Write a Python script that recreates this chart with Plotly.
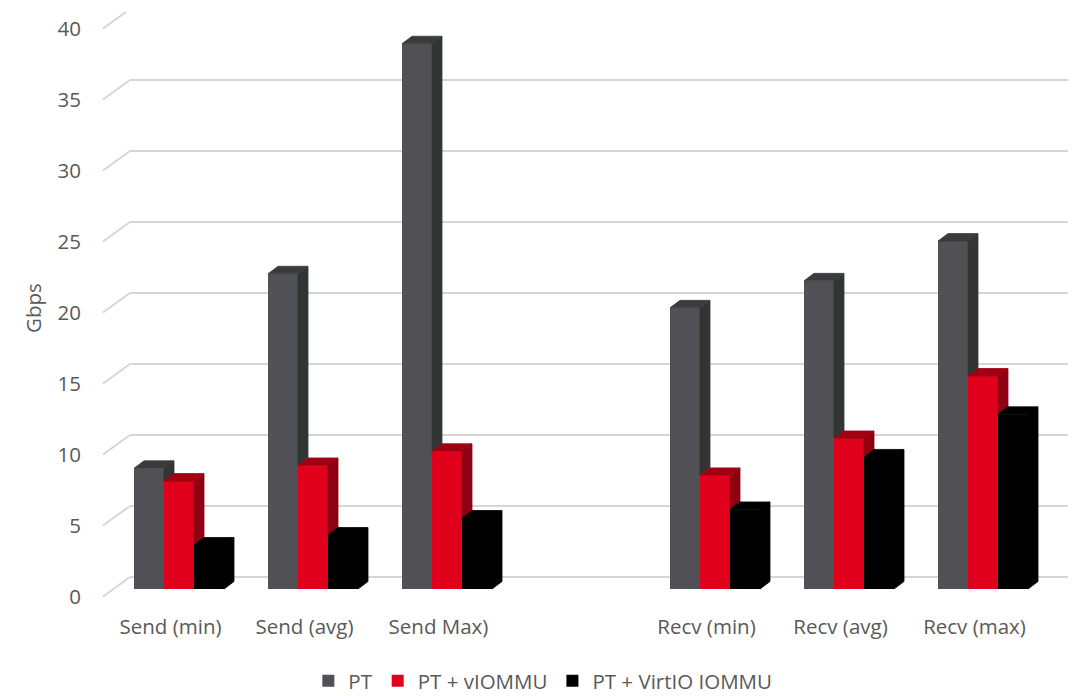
import plotly.graph_objects as go

# ---------------- data ----------------
categories = ["Send (min)", "Send (avg)", "Send Max)", "", "Recv (min)", "Recv (avg)", "Recv (max)"]
series_names = ["PT", "PT + vIOMMU", "PT + VirtIO IOMMU"]
pt_values = [8.5, 22.2, 38.4, None, 19.8, 21.7, 24.5]
viommu_values = [7.6, 8.7, 9.7, None, 8.0, 10.6, 15.0]
virtio_values = [3.1, 3.8, 5.0, None, 5.6, 9.3, 12.3]
y_ticks = [0, 5, 10, 15, 20, 25, 30, 35, 40]
y_title = "Gbps"

# ---------------- style ----------------
front_colors = ["#505055", "#e0001b", "#000000"]
side_colors = ["#333535", "#8f0012", "#000000"]
top_colors = ["#3a3c3c", "#a00012", "#000000"]
text_color = "#595959"
grid_color = "#d6d6d6"
FONT = "Open Sans"
FSIZE = 20.5
LEG_FSIZE = 20.5

OFF = 8                                  # page body margin
W, H = 1082 - OFF, 696 - OFF
L, R, T, B = 98 - OFF, 1072 - OFF, 4, 604 - OFF   # plot area (figure px)
CAT_PX = 134.0
CAT0_PX = 179.0 - OFF
VAL_PX = 14.2
BASE_PX = 589.0 - OFF

ux = 1.0 / CAT_PX
uy = 1.0 / VAL_PX
x_range = [(L - CAT0_PX) * ux, (R - CAT0_PX) * ux]
y_range = [-(B - BASE_PX) * uy, (BASE_PX - T) * uy]

bar_w = 30 * ux
group_left = -45 * ux
dx, dy = 10 * ux, 7.5 * uy
back_dy = 12 * uy
front_dy = -7.5 * uy
grid_back_left = (130 - OFF - CAT0_PX) * ux
grid_right = (1068 - OFF - CAT0_PX) * ux
grid_front_left = (103 - OFF - CAT0_PX) * ux
label_dx = -8.5 * ux

all_series = [pt_values, viommu_values, virtio_values]

fig = go.Figure()

for j, (name, vals) in enumerate(zip(series_names, all_series)):
    xs = [k + group_left + j * bar_w + bar_w / 2 for k in range(len(categories))]
    fig.add_trace(go.Bar(
        x=xs, y=vals, width=bar_w, name=name,
        marker=dict(color=front_colors[j], line=dict(width=0)),
        hoverinfo="y+name",
    ))

for j, vals in enumerate(all_series):
    sx, sy, tx, ty = [], [], [], []
    for k, v in enumerate(vals):
        if v is None:
            continue
        xl = k + group_left + j * bar_w
        xr = xl + bar_w
        nxt = all_series[j + 1][k] if j + 1 < len(all_series) else None
        vb = 0.0 if nxt is None else nxt
        if vb < v:
            sx += [xr, xr + dx, xr + dx, xr, xr, None]
            sy += [vb, vb + dy, v + dy, v, vb, None]
        tx += [xl, xl + dx, xr + dx, xr, xl, None]
        ty += [v, v + dy, v + dy, v, v, None]
    fig.add_trace(go.Scatter(x=sx, y=sy, mode="lines", fill="toself",
                             fillcolor=side_colors[j],
                             line=dict(color=side_colors[j], width=0.8),
                             hoverinfo="skip", showlegend=False))
    fig.add_trace(go.Scatter(x=tx, y=ty, mode="lines", fill="toself",
                             fillcolor=top_colors[j],
                             line=dict(color=top_colors[j], width=0.8),
                             hoverinfo="skip", showlegend=False))

shapes = []
for g in y_ticks:
    shapes.append(dict(type="line", xref="x", yref="y", layer="below",
                       x0=grid_back_left, y0=g + back_dy, x1=grid_right, y1=g + back_dy,
                       line=dict(color=grid_color, width=2)))
    shapes.append(dict(type="line", xref="x", yref="y", layer="below",
                       x0=grid_front_left, y0=g + front_dy, x1=grid_back_left, y1=g + back_dy,
                       line=dict(color=grid_color, width=2)))

fig.update_layout(
    width=W, height=H,
    margin=dict(l=L, r=W - R, t=T, b=H - B, autoexpand=False),
    paper_bgcolor="white", plot_bgcolor="white",
    barmode="overlay",
    shapes=shapes,
    font=dict(family=FONT, size=FSIZE, color=text_color),
    showlegend=True,
    legend=dict(orientation="h", xref="container", yref="container",
                x=0.498, xanchor="center", y=1 - (681 - OFF) / H, yanchor="middle",
                font=dict(family=FONT, size=LEG_FSIZE, color=text_color),
                itemclick=False, itemdoubleclick=False),
    xaxis=dict(range=x_range, showgrid=False, zeroline=False, showline=False,
               ticks="", tickmode="array",
               tickvals=[k + label_dx for k in range(len(categories))],
               ticktext=categories, automargin=False, ticklabelstandoff=8),
    yaxis=dict(range=y_range, showgrid=False, zeroline=False, showline=False,
               ticks="", tickmode="array",
               tickvals=[g + front_dy for g in y_ticks],
               ticktext=[str(g) for g in y_ticks], automargin=False,
               ticklabelstandoff=16,
               title=dict(text=y_title, standoff=10,
                          font=dict(family=FONT, size=FSIZE, color=text_color))),
)

fig.write_html("out.html")
